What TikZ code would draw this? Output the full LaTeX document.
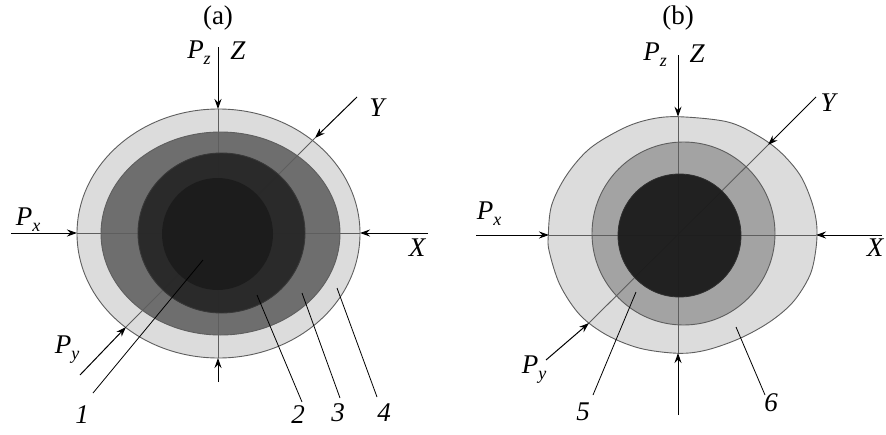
\documentclass[tikz,border=0pt]{standalone}
\usepackage{fontspec}
\setmainfont{Liberation Serif}
\usetikzlibrary{arrows.meta}
\definecolor{ringA}{HTML}{DCDCDC}
\definecolor{ringB}{HTML}{6E6E6E}
\definecolor{ringC}{HTML}{252525}
\definecolor{ringD}{HTML}{1B1B1B}
\definecolor{ringE}{HTML}{A3A3A3}
\definecolor{edgecol}{HTML}{5E5E5E}
\newcommand{\sbs}[1]{\raisebox{-6pt}{\fontsize{18}{18}\selectfont\itshape #1}}
\tikzset{
  ring/.style={draw=edgecol, line width=0.9pt},
  axisline/.style={draw=edgecol, line width=0.9pt},
  force/.style={draw=black, line width=1pt, -{Stealth[length=10pt,width=7pt]}},
  leader/.style={draw=black, line width=0.8pt},
  lbl/.style={font=\fontsize{27}{30}\selectfont\itshape, inner sep=0pt},
  ttl/.style={font=\fontsize{27}{30}\selectfont\upshape, inner sep=0pt},
}
\begin{document}
\begin{tikzpicture}[x=1pt,y=-1pt]
\useasboundingbox (0,0) rectangle (886,434);
% ---------- panel (a) ----------
\filldraw[ring, fill=ringA] (218.5,233.5) ellipse [x radius=141.5, y radius=124.5];
\filldraw[ring, fill=ringB] (220.5,233.5) ellipse [x radius=119.5, y radius=101.5];
\coordinate (aL) at (77,233);
\coordinate (aR) at (360,233);
\coordinate (aT) at (218,109);
\coordinate (aB) at (218,358);
\coordinate (aY) at (315,138);
\coordinate (aPy) at (126,327);
\draw[axisline] (aL) -- (aR);
\draw[axisline] (aT) -- (aB);
\draw[axisline] (aY) -- (aPy);
\filldraw[ring, draw=edgecol!60!black, fill=ringC, fill opacity=0.93] (221.5,233) ellipse [x radius=83.5, y radius=80];
\fill[ringD, fill opacity=0.9] (217.5,234) ellipse [x radius=55.5, y radius=56];
% forces a
\coordinate (aPxS) at (11,233);
\coordinate (aXS) at (428,233);
\coordinate (aZS) at (218,47);
\coordinate (aBS) at (218,382);
\coordinate (aYS) at (357,97);
\coordinate (aPyS) at (80,375);
\draw[force] (aPxS) -- (aL);
\draw[force] (aXS) -- (aR);
\draw[force] (aZS) -- (aT);
\draw[force] (aBS) -- (aB);
\draw[force] (aYS) -- (aY);
\draw[force] (aPyS) -- (aPy);
% labels a
\node[ttl] (ta) at (218,18) {(a)};
\node[lbl] (aPz) at (199,53) {P\sbs{z}};
\node[lbl] (aZ) at (238,51) {Z};
\node[lbl] (aPx) at (28,220) {P\sbs{x}};
\node[lbl] (aX) at (417,248) {X};
\node[lbl] (aYl) at (377,108) {Y};
\node[lbl] (aPyl) at (67,350) {P\sbs{y}};
\node[lbl] (a1) at (82,415) {1};
\node[lbl] (a2) at (298,415) {2};
\node[lbl] (a3) at (338,413) {3};
\node[lbl] (a4) at (384,413) {4};
\coordinate (a1s) at (203,260);
\coordinate (a1e) at (93,393);
\coordinate (a2s) at (257,295);
\coordinate (a2e) at (302,402);
\coordinate (a3s) at (302,293);
\coordinate (a3e) at (340,398);
\coordinate (a4s) at (337,288);
\coordinate (a4e) at (377,397);
\draw[leader] (a1s) -- (a1e);
\draw[leader] (a2s) -- (a2e);
\draw[leader] (a3s) -- (a3e);
\draw[leader] (a4s) -- (a4e);
% ---------- panel (b) ----------
\filldraw[ring, fill=ringA] plot[smooth cycle, tension=0.55] coordinates {
 (678.3,116.7) (726.7,121.7) (756.7,135) (780,151.7) (800,175) (811.7,201.7)
 (816.7,225) (816,248.3) (810,275) (793.3,301.7) (770,321.7) (740,338.3)
 (706.7,350) (678.3,353.3) (640,348.3) (606.7,335) (580,315) (560,285)
 (549.3,251.7) (548.3,235) (551.7,205) (566.7,175) (590,148.3) (623.3,128.3)
 (650,119.3)};
\filldraw[ring, fill=ringE] (683.5,233.5) circle [radius=91.5];
% axes b
\coordinate (bL) at (549,235);
\coordinate (bR) at (816,235);
\coordinate (bT) at (678,116.7);
\coordinate (bB) at (678,353);
\coordinate (bY) at (768,145);
\coordinate (bPy) at (589,323);
\draw[axisline] (bL) -- (bR);
\draw[axisline] (bT) -- (bB);
\draw[axisline] (bY) -- (bPy);
\fill[ringD, fill opacity=0.95, draw=ringD!80!gray, line width=0.8pt] (679.5,235.5) circle [radius=61.5];
% forces b
\coordinate (bPxS) at (476,235);
\coordinate (bXS) at (882,235);
\coordinate (bZS) at (678,55);
\coordinate (bBS) at (678,415);
\coordinate (bYS) at (816,97);
\coordinate (bPyS) at (546,360);
\draw[force] (bPxS) -- (bL);
\draw[force] (bXS) -- (bR);
\draw[force] (bZS) -- (bT);
\draw[force] (bBS) -- (bB);
\draw[force] (bYS) -- (bY);
\draw[force] (bPyS) -- (bPy);
% labels b
\node[ttl] (tb) at (678,18) {(b)};
\node[lbl] (bPz) at (655,55) {P\sbs{z}};
\node[lbl] (bZ) at (697,54) {Z};
\node[lbl] (bPx) at (489,214) {P\sbs{x}};
\node[lbl] (bX) at (875,248) {X};
\node[lbl] (bYl) at (828,103) {Y};
\node[lbl] (bPyl) at (534,370) {P\sbs{y}};
\node[lbl] (b5) at (583,412) {5};
\node[lbl] (b6) at (771,403) {6};
\coordinate (b5s) at (636,292);
\coordinate (b5e) at (593,395);
\coordinate (b6s) at (736,327);
\coordinate (b6e) at (765,395);
\draw[leader] (b5s) -- (b5e);
\draw[leader] (b6s) -- (b6e);
\end{tikzpicture}
\end{document}
